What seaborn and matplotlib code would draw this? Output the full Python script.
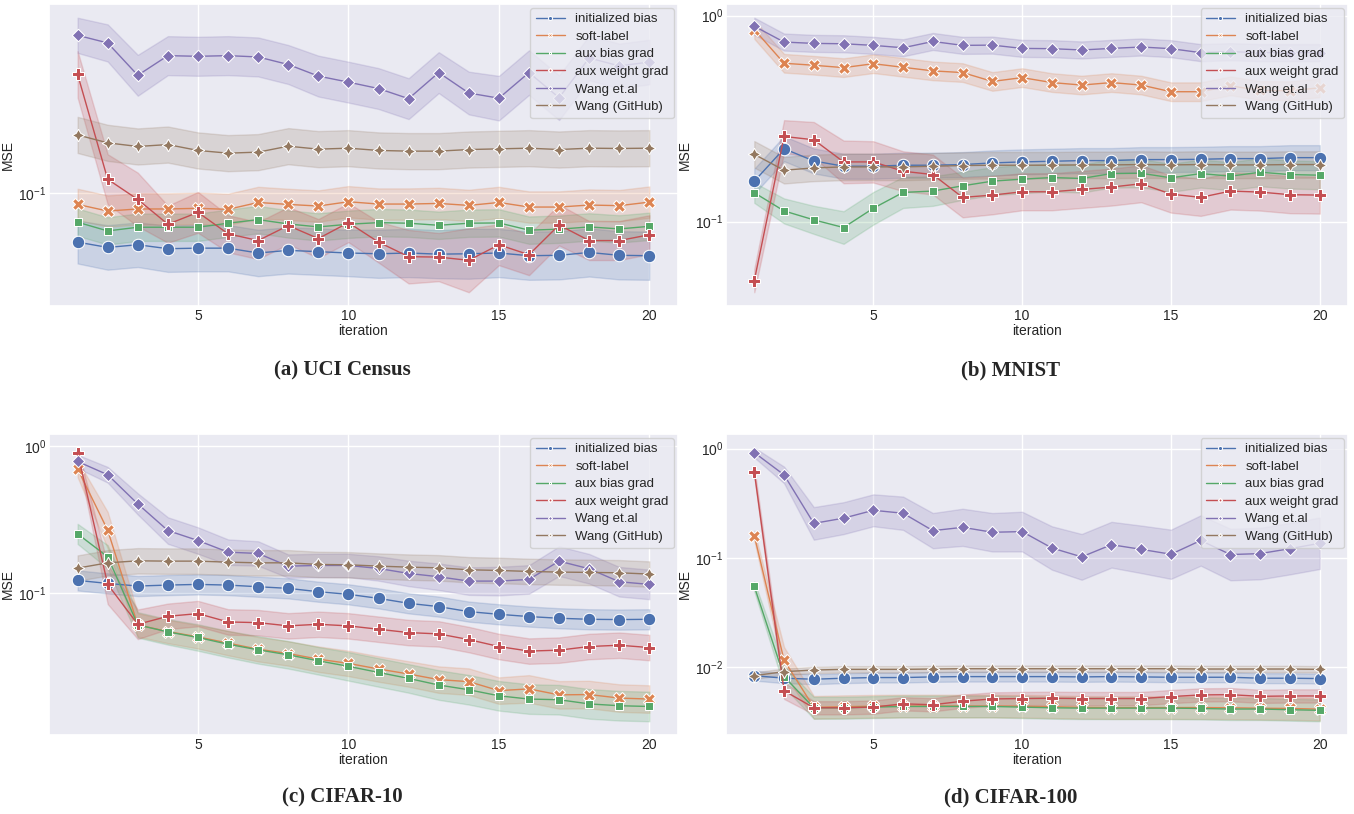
import numpy as np
import pandas as pd
import matplotlib.pyplot as plt
import seaborn as sns

iterations = list(range(1, 21))
methods = ["initialized bias", "soft-label", "aux bias grad",
           "aux weight grad", "Wang et.al", "Wang (GitHub)"]
x_ticks = [5, 10, 15, 20]

# ----- (a) UCI Census : mean MSE per iteration -----
census_mse = {
    "initialized bias": [0.0648, 0.0618, 0.0633, 0.0611, 0.0614, 0.0614, 0.0588, 0.0602, 0.0595, 0.0588,
                         0.0584, 0.0588, 0.0582, 0.0584, 0.0588, 0.0574, 0.0576, 0.0591, 0.0576, 0.0574],
    "soft-label": [0.0907, 0.0855, 0.0871, 0.0871, 0.0876, 0.0868, 0.0923, 0.0907, 0.0894, 0.0929,
                   0.0910, 0.0910, 0.0915, 0.0899, 0.0923, 0.0886, 0.0886, 0.0902, 0.0897, 0.0926],
    "aux bias grad": [0.0774, 0.0716, 0.0740, 0.0740, 0.0740, 0.0767, 0.0792, 0.0762, 0.0742, 0.0760,
                      0.0771, 0.0767, 0.0753, 0.0767, 0.0769, 0.0721, 0.0727, 0.0742, 0.0729, 0.0746],
    "aux weight grad": [0.2893, 0.1135, 0.0948, 0.0760, 0.0845, 0.0698, 0.0657, 0.0751, 0.0669, 0.0771,
                        0.0648, 0.0569, 0.0567, 0.0551, 0.0633, 0.0579, 0.0755, 0.0657, 0.0657, 0.0692],
    "Wang et.al": [0.410, 0.383, 0.287, 0.342, 0.340, 0.342, 0.338, 0.316, 0.285, 0.270,
                   0.255, 0.233, 0.294, 0.245, 0.234, 0.294, 0.235, 0.335, 0.312, 0.323],
    "Wang (GitHub)": [0.1686, 0.1571, 0.1521, 0.1547, 0.1468, 0.1433, 0.1446, 0.1525, 0.1485, 0.1498,
                      0.1468, 0.1459, 0.1459, 0.1480, 0.1489, 0.1498, 0.1480, 0.1498, 0.1494, 0.1498],
}
# multiplicative half-width of the shaded band (lower = mean / f, upper = mean * f)
census_band = {
    "initialized bias": [1.21, 1.22, 1.22, 1.23, 1.23, 1.23, 1.23, 1.23, 1.23, 1.23,
                         1.24, 1.24, 1.24, 1.25, 1.24, 1.24, 1.24, 1.24, 1.24, 1.24],
    "soft-label": 1.15,
    "aux bias grad": 1.13,
    "aux weight grad": [1.23, 1.25, 1.27, 1.18, 1.20, 1.18, 1.18, 1.18, 1.19, 1.19,
                        1.20, 1.27, 1.24, 1.33, 1.20, 1.20, 1.20, 1.19, 1.19, 1.19],
    "Wang et.al": [1.17, 1.18, 1.20, 1.19, 1.19, 1.19, 1.19, 1.19, 1.20, 1.20,
                   1.20, 1.20, 1.20, 1.21, 1.22, 1.22, 1.22, 1.22, 1.22, 1.22],
    "Wang (GitHub)": 1.175,
}

# ----- (b) MNIST -----
mnist_mse = {
    "initialized bias": [0.157, 0.2258, 0.1969, 0.1856, 0.1856, 0.1877, 0.1877, 0.1891, 0.1926, 0.1948,
                         0.1962, 0.1977, 0.1977, 0.1999, 0.1999, 0.2006, 0.2021, 0.2021, 0.2043, 0.2043],
    "soft-label": [0.856, 0.587, 0.574, 0.559, 0.584, 0.561, 0.539, 0.529, 0.479, 0.500,
                   0.473, 0.460, 0.473, 0.460, 0.427, 0.427, 0.456, 0.433, 0.432, 0.446],
    "aux bias grad": [0.138, 0.1126, 0.1019, 0.0935, 0.1160, 0.1385, 0.1406, 0.1491, 0.1571, 0.1606,
                      0.1636, 0.1618, 0.1710, 0.1716, 0.1630, 0.1710, 0.1661, 0.1736, 0.1691, 0.1679],
    "aux weight grad": [0.0517, 0.2589, 0.2495, 0.1948, 0.1948, 0.1755, 0.1691, 0.1310, 0.1344, 0.1395,
                        0.1395, 0.1432, 0.1470, 0.1526, 0.1359, 0.1310, 0.1406, 0.1390, 0.1350, 0.1344],
    "Wang et.al": [0.888, 0.744, 0.733, 0.730, 0.717, 0.698, 0.749, 0.717, 0.719, 0.693,
                   0.691, 0.681, 0.693, 0.704, 0.691, 0.661, 0.668, 0.661, 0.661, 0.661],
    "Wang (GitHub)": [0.2120, 0.1775, 0.1822, 0.1842, 0.1842, 0.1842, 0.1856, 0.1870, 0.1877, 0.1877,
                      0.1877, 0.1884, 0.1884, 0.1891, 0.1884, 0.1891, 0.1884, 0.1884, 0.1891, 0.1891],
}
mnist_band = {
    "initialized bias": 1.15,
    "soft-label": 1.11,
    "aux bias grad": [1.12, 1.15, 1.17, 1.20, 1.20, 1.19, 1.18, 1.17, 1.17, 1.17,
                      1.17, 1.17, 1.17, 1.17, 1.17, 1.17, 1.17, 1.17, 1.17, 1.17],
    "aux weight grad": [1.14, 1.20, 1.22, 1.27, 1.26, 1.25, 1.25, 1.25, 1.24, 1.23,
                        1.23, 1.23, 1.23, 1.23, 1.23, 1.23, 1.23, 1.23, 1.23, 1.23],
    "Wang et.al": 1.10,
    "Wang (GitHub)": 1.16,
}

# ----- (c) CIFAR-10 -----
cifar10_mse = {
    "initialized bias": [0.1224, 0.1168, 0.1121, 0.1138, 0.1150, 0.1138, 0.1109, 0.1081, 0.1026, 0.0985,
                         0.0925, 0.0856, 0.0813, 0.0752, 0.0721, 0.0696, 0.0678, 0.0667, 0.0664, 0.0667],
    "soft-label": [0.699, 0.268, 0.0611, 0.0551, 0.0507, 0.0460, 0.0418, 0.0391, 0.0358, 0.0335,
                   0.0307, 0.0284, 0.0260, 0.0252, 0.0219, 0.0225, 0.0205, 0.0206, 0.0195, 0.0192],
    "aux bias grad": [0.2531, 0.1769, 0.0611, 0.0548, 0.0502, 0.0452, 0.0414, 0.0383, 0.0349, 0.0320,
                      0.0291, 0.0265, 0.0239, 0.0222, 0.0202, 0.0192, 0.0190, 0.0178, 0.0173, 0.0171],
    "aux weight grad": [0.901, 0.1150, 0.0617, 0.0699, 0.0729, 0.0640, 0.0633, 0.0602, 0.0617, 0.0602,
                        0.0571, 0.0542, 0.0531, 0.0486, 0.0436, 0.0406, 0.0412, 0.0436, 0.0445, 0.0429],
    "Wang et.al": [0.784, 0.637, 0.404, 0.2666, 0.2281, 0.1903, 0.1864, 0.1530, 0.1546, 0.1546,
                   0.1475, 0.1365, 0.1296, 0.1211, 0.1211, 0.1243, 0.1654, 0.1468, 0.1199, 0.1150],
    "Wang (GitHub)": [0.1483, 0.1611, 0.1662, 0.1654, 0.1654, 0.1628, 0.1611, 0.1611, 0.1570, 0.1562,
                      0.1530, 0.1506, 0.1490, 0.1445, 0.1430, 0.1408, 0.1394, 0.1387, 0.1379, 0.1351],
}
cifar10_band = {
    "initialized bias": 1.17,
    "soft-label": [1.14, 1.33, 1.20, 1.20, 1.20, 1.21, 1.21, 1.21, 1.22, 1.22,
                   1.22, 1.22, 1.23, 1.23, 1.23, 1.24, 1.24, 1.24, 1.24, 1.24],
    "aux bias grad": [1.17, 1.20, 1.22, 1.22, 1.23, 1.23, 1.24, 1.24, 1.24, 1.25,
                      1.25, 1.25, 1.26, 1.26, 1.26, 1.26, 1.26, 1.26, 1.26, 1.26],
    "aux weight grad": [1.08, 1.36, 1.26, 1.22, 1.22, 1.22, 1.22, 1.22, 1.22, 1.22,
                        1.22, 1.22, 1.22, 1.22, 1.22, 1.22, 1.22, 1.22, 1.22, 1.22],
    "Wang et.al": [1.11, 1.13, 1.18, 1.23, 1.23, 1.22, 1.21, 1.20, 1.20, 1.20,
                   1.21, 1.22, 1.23, 1.24, 1.25, 1.25, 1.26, 1.26, 1.26, 1.26],
    "Wang (GitHub)": 1.22,
}

# ----- (d) CIFAR-100 -----
cifar100_mse = {
    "initialized bias": [0.00835, 0.00791, 0.00774, 0.00791, 0.00802, 0.00802, 0.00813, 0.00818, 0.00818, 0.00818,
                         0.00818, 0.00813, 0.00818, 0.00813, 0.00807, 0.00807, 0.00807, 0.00791, 0.00791, 0.00785],
    "soft-label": [0.160, 0.01156, 0.00428, 0.00434, 0.00438, 0.00440, 0.00440, 0.00440, 0.00440, 0.00438,
                   0.00434, 0.00428, 0.00426, 0.00426, 0.00426, 0.00426, 0.00424, 0.00420, 0.00418, 0.00412],
    "aux bias grad": [0.0548, 0.00818, 0.00424, 0.00424, 0.00430, 0.00436, 0.00436, 0.00436, 0.00436, 0.00430,
                      0.00424, 0.00421, 0.00421, 0.00421, 0.00421, 0.00418, 0.00413, 0.00413, 0.00407, 0.00402],
    "aux weight grad": [0.616, 0.00608, 0.00424, 0.00424, 0.00430, 0.00461, 0.00452, 0.00487, 0.00511, 0.00515,
                        0.00518, 0.00515, 0.00515, 0.00515, 0.00537, 0.00556, 0.00559, 0.00540, 0.00544, 0.00544],
    "Wang et.al": [0.920, 0.575, 0.2067, 0.2309, 0.2725, 0.2561, 0.1775, 0.1903, 0.1715, 0.1739,
                   0.1231, 0.1021, 0.1319, 0.1197, 0.1079, 0.1442, 0.1072, 0.1094, 0.1214, 0.1360],
    "Wang (GitHub)": [0.00835, 0.00908, 0.00940, 0.00953, 0.00953, 0.00953, 0.00960, 0.00966, 0.00966, 0.00966,
                      0.00966, 0.00966, 0.00966, 0.00966, 0.00966, 0.00960, 0.00960, 0.00960, 0.00960, 0.00953],
}
cifar100_band = {
    "initialized bias": 1.11,
    "soft-label": [1.11, 1.32, 1.27, 1.27, 1.27, 1.27, 1.27, 1.27, 1.27, 1.27,
                   1.27, 1.27, 1.27, 1.27, 1.27, 1.27, 1.27, 1.27, 1.27, 1.27],
    "aux bias grad": [1.11, 1.25, 1.26, 1.26, 1.26, 1.26, 1.26, 1.26, 1.26, 1.26,
                      1.26, 1.26, 1.26, 1.26, 1.26, 1.26, 1.26, 1.26, 1.26, 1.26],
    "aux weight grad": [1.11, 1.19, 1.15, 1.15, 1.15, 1.15, 1.15, 1.15, 1.15, 1.15,
                        1.15, 1.15, 1.15, 1.15, 1.15, 1.15, 1.15, 1.15, 1.15, 1.15],
    "Wang et.al": [1.11, 1.19, 1.41, 1.40, 1.40, 1.42, 1.45, 1.48, 1.50, 1.52,
                   1.58, 1.62, 1.62, 1.65, 1.68, 1.70, 1.72, 1.72, 1.72, 1.72],
    "Wang (GitHub)": 1.07,
}

captions = ["(a) UCI Census", "(b) MNIST", "(c) CIFAR-10", "(d) CIFAR-100"]


def to_long(mse, band):
    # three rows per point (lower edge, mean, upper edge) so that
    # median gives the line and the 100% interval gives the band
    rows = []
    for m in methods:
        spread = np.broadcast_to(np.asarray(band[m], dtype=float), (len(iterations),))
        for it, v, s in zip(iterations, mse[m], spread):
            for y in (v / s, v, v * s):
                rows.append({"iteration": it, "MSE": y, "method": m})
    return pd.DataFrame(rows)


sns.set_theme(style="darkgrid")
plt.rcParams["font.family"] = ["Liberation Sans", "DejaVu Sans"]
plt.rcParams["mathtext.fontset"] = "custom"
plt.rcParams["mathtext.rm"] = "Liberation Sans"
plt.rcParams["mathtext.it"] = "Liberation Sans:italic"
plt.rcParams["mathtext.bf"] = "Liberation Sans:bold"

fig = plt.figure(figsize=(13.54, 8.14), dpi=100)

panels = [
    (census_mse, census_band, [0.0362, 0.6241, 0.4645, 0.3710], (0.2525, 0.545)),
    (mnist_mse, mnist_band, [0.5362, 0.6241, 0.4594, 0.3710], (0.7465, 0.545)),
    (cifar10_mse, cifar10_band, [0.0362, 0.0971, 0.4645, 0.3698], (0.2525, 0.020)),
    (cifar100_mse, cifar100_band, [0.5362, 0.0971, 0.4594, 0.3698], (0.7465, 0.020)),
]

for (mse, band, pos, cap_xy), caption in zip(panels, captions):
    ax = fig.add_axes(pos)
    ax.set_yscale("log")
    df = to_long(mse, band)
    sns.lineplot(
        data=df, x="iteration", y="MSE",
        hue="method", style="method", hue_order=methods, style_order=methods,
        markers=True, dashes=False,
        estimator="median", errorbar=("pi", 100),
        markersize=9, linewidth=1, ax=ax,
    )
    ax.set_xticks(x_ticks)
    sns.move_legend(ax, "upper right", title=None, fontsize=9.5,
                    borderaxespad=0.3, handlelength=2.2, labelspacing=0.4)
    for h in ax.get_legend().legend_handles:
        h.set_markersize(3)
    ax.tick_params(labelsize=10, length=0, pad=2)
    ax.set_xlabel("iteration", fontsize=10, labelpad=1)
    ax.set_ylabel("MSE", fontsize=10, labelpad=2)
    fig.text(cap_xy[0], cap_xy[1], caption, ha="center", va="center",
             family="Liberation Serif", weight="bold", fontsize=15)

fig.savefig("out.png", dpi=100)
